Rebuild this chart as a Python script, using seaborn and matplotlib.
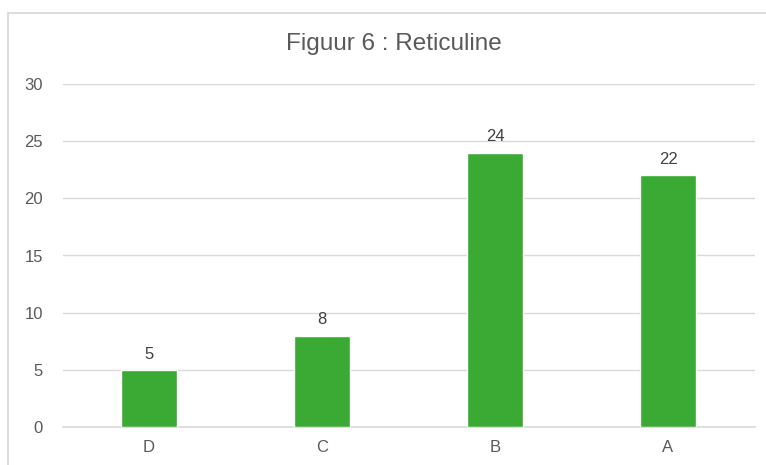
import matplotlib
matplotlib.use("Agg")
import matplotlib.pyplot as plt
from matplotlib.patches import Rectangle
import seaborn as sns
import pandas as pd

categories = ["D", "C", "B", "A"]
values = [5, 8, 24, 22]
y_ticks = [0, 5, 10, 15, 20, 25, 30]

df = pd.DataFrame({"categorie": categories, "waarde": values})

sns.set_theme(style="white")
plt.rcParams["font.family"] = ["Liberation Sans", "DejaVu Sans"]

W, H = 766, 465
fig = plt.figure(figsize=(W / 100, H / 100), dpi=100)
fig.patch.set_facecolor("white")

# outer chart frame
fig.add_artist(Rectangle((8 / W, -0.05), 1.0, 1 - 13 / H + 0.05,
                         transform=fig.transFigure, fill=False,
                         edgecolor="#D9D9D9", linewidth=1.3))

ax = fig.add_axes([62.5 / W, 1 - 427 / H, (754.5 - 62.5) / W, (427 - 84) / H])
sns.barplot(data=df, x="categorie", y="waarde", color="#3AAA35",
            width=0.325, saturation=1, ax=ax, zorder=3)

ax.set_ylim(0, 30)
ax.set_yticks(y_ticks)
ax.set_xlim(-0.5, len(categories) - 0.5)
ax.grid(axis="y", color="#D9D9D9", linewidth=1.0, zorder=0)
ax.set_axisbelow(True)
for s in ["top", "right", "left"]:
    ax.spines[s].set_visible(False)
ax.spines["bottom"].set_color("#D9D9D9")
ax.spines["bottom"].set_linewidth(1.2)
ax.set_xlabel("")
ax.set_ylabel("")
ax.tick_params(axis="both", length=0, labelsize=12, labelcolor="#595959")
ax.tick_params(axis="y", pad=14)
ax.tick_params(axis="x", pad=9)

for c in ax.containers:
    ax.bar_label(c, labels=[str(v) for v in values], padding=6,
                 fontsize=12, color="#404040")

fig.text(393.5 / W, 1 - 44 / H, "Figuur 6 : Reticuline", ha="center", va="center",
         fontsize=17.5, color="#595959")

fig.savefig("out.png", dpi=100)
